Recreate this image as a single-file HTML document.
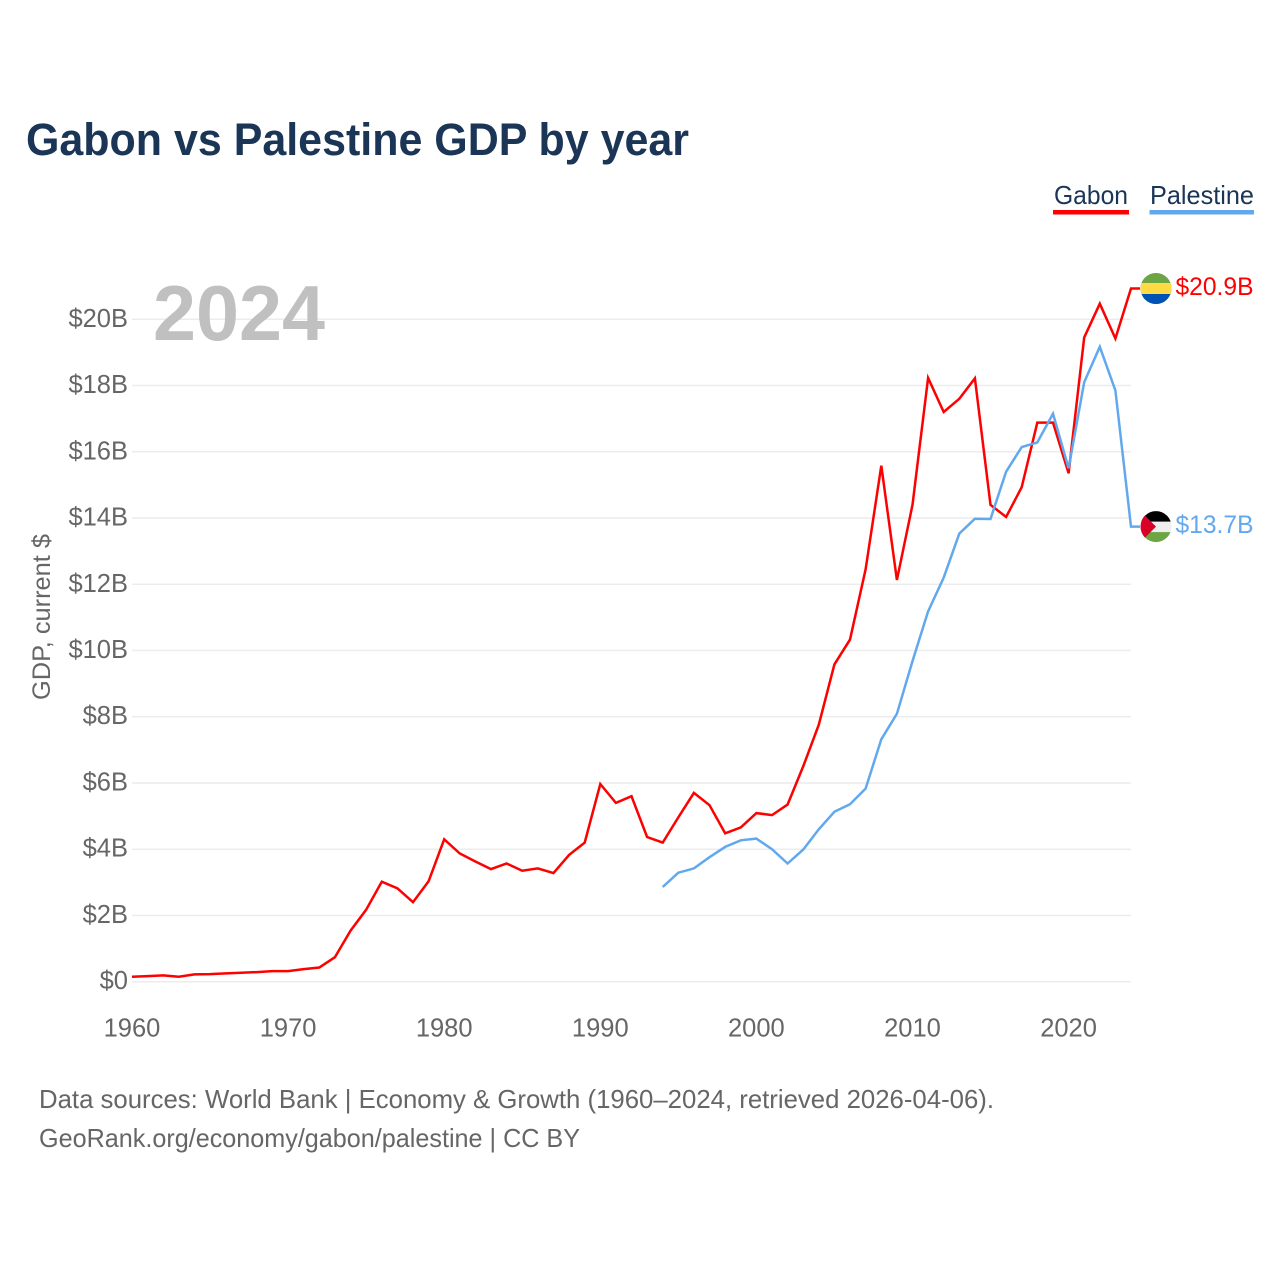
<!DOCTYPE html>
<html lang="en">
<head>
<meta charset="utf-8">
<title>Gabon vs Palestine GDP by year</title>
<style>
html,body{margin:0;padding:0;background:#fff;}
svg{display:block;font-family:"Liberation Sans",sans-serif;}
</style>
</head>
<body>
<svg id="chart" width="1280" height="1280" viewBox="0 0 1280 1280" xmlns="http://www.w3.org/2000/svg">
  <defs>
    <clipPath id="flag-clip"><circle cx="0" cy="0" r="15.5"></circle></clipPath>
  </defs>
  <rect x="0" y="0" width="1280" height="1280" fill="#ffffff"></rect>
  <text x="26" y="155" font-size="45" font-weight="700" fill="#1a3556" textLength="663" lengthAdjust="spacingAndGlyphs">Gabon vs Palestine GDP by year</text>

  <text x="1054" y="204" font-size="26" fill="#1a3556" textLength="74" lengthAdjust="spacingAndGlyphs">Gabon</text>
  <rect x="1053" y="210" width="76" height="4.5" fill="#ff0000"></rect>
  <text x="1150" y="204" font-size="26" fill="#1a3556" textLength="104" lengthAdjust="spacingAndGlyphs">Palestine</text>
  <rect x="1149.5" y="210" width="104.5" height="4.5" fill="#62a8ee"></rect>

  <g id="grid"></g>
  <text x="153" y="340" font-size="78" font-weight="700" fill="#c0c0c0" textLength="172" lengthAdjust="spacingAndGlyphs">2024</text>
  <g id="y-ticks"></g>
  <g id="x-ticks"></g>
  <text transform="translate(50 617) rotate(-90)" text-anchor="middle" font-size="25" fill="#666666" textLength="166" lengthAdjust="spacingAndGlyphs">GDP, current $</text>

  <g id="series"></g>

  <g id="flag-gabon">
    <g clip-path="url(#flag-clip)">
      <rect x="-16" y="-16" width="32" height="32" fill="#6da544"></rect>
      <rect x="-16" y="-5.5" width="32" height="11" fill="#ffda44"></rect>
      <rect x="-16" y="5.5" width="32" height="11" fill="#0052b4"></rect>
    </g>
  </g>
  <g id="flag-palestine">
    <g clip-path="url(#flag-clip)">
      <rect x="-16" y="-16" width="32" height="32" fill="#eeeeee"></rect>
      <rect x="-16" y="-16" width="32" height="11" fill="#000000"></rect>
      <rect x="-16" y="5.5" width="32" height="11" fill="#6da544"></rect>
      <polygon points="-16,-16 0,0 -16,16" fill="#d80027"></polygon>
    </g>
  </g>
  <text id="value-gabon" x="1175.5" font-size="25" fill="#ff0000" textLength="78" lengthAdjust="spacingAndGlyphs"></text>
  <text id="value-palestine" x="1175.5" font-size="25" fill="#62a8ee" textLength="78" lengthAdjust="spacingAndGlyphs"></text>

  <text x="39" y="1108" font-size="26" fill="#666666" textLength="955" lengthAdjust="spacingAndGlyphs">Data sources: World Bank | Economy &amp; Growth (1960–2024, retrieved 2026-04-06).</text>
  <text x="39" y="1147" font-size="26" fill="#666666" textLength="541" lengthAdjust="spacingAndGlyphs">GeoRank.org/economy/gabon/palestine | CC BY</text>
</svg>
<script>
var gabonStartYear = 1960;
var palestineStartYear = 1994;
var gabonValues = [0.15,0.17,0.19,0.15,0.22,0.23,0.25,0.27,0.29,0.32,0.32,0.38,0.43,0.74,1.54,2.17,3.02,2.82,2.4,3.03,4.3,3.87,3.63,3.4,3.57,3.35,3.42,3.28,3.83,4.2,5.97,5.4,5.6,4.37,4.2,4.96,5.7,5.33,4.48,4.66,5.09,5.03,5.35,6.5,7.76,9.58,10.33,12.45,15.58,12.13,14.4,18.23,17.2,17.6,18.22,14.4,14.03,14.93,16.88,16.88,15.35,19.45,20.47,19.42,20.93];
var palestineValues = [2.86,3.29,3.42,3.76,4.07,4.27,4.32,4.0,3.57,3.99,4.6,5.13,5.36,5.83,7.32,8.09,9.68,11.18,12.2,13.53,13.98,13.97,15.4,16.14,16.28,17.15,15.5,18.1,19.17,17.85,13.74];
var yTickValues = [0,2,4,6,8,10,12,14,16,18,20];
var yTickLabels = ["$0","$2B","$4B","$6B","$8B","$10B","$12B","$14B","$16B","$18B","$20B"];
var xTickValues = [1960,1970,1980,1990,2000,2010,2020];
var xTickLabels = ["1960","1970","1980","1990","2000","2010","2020"];

var NS = "http://www.w3.org/2000/svg";
function xScale(year) { return 132 + (year - 1960) * (999 / 64); }
function yScale(value) { return 981.7 - value * 33.12; }
function make(tag, attrs) {
  var el = document.createElementNS(NS, tag);
  for (var k in attrs) { el.setAttribute(k, attrs[k]); }
  return el;
}

var grid = document.getElementById("grid");
var yTicks = document.getElementById("y-ticks");
yTickValues.forEach(function (v, i) {
  var line = make("line", { x1: 132, x2: 1131, y1: yScale(v), y2: yScale(v), stroke: "#ececec", "stroke-width": 1.5 });
  
  
  grid.appendChild(line);
  var label = make("text", { x: 128, y: yScale(v) + 7.5, "text-anchor": "end", "font-size": 25.5, fill: "#666666" });
  
  
  label.textContent = yTickLabels[i];
  yTicks.appendChild(label);
});

var xTicks = document.getElementById("x-ticks");
xTickValues.forEach(function (v, i) {
  var label = make("text", { x: xScale(v), y: 1036.5, "text-anchor": "middle", "font-size": 25.5, fill: "#666666" });
  
  
  label.textContent = xTickLabels[i];
  xTicks.appendChild(label);
});

function seriesPoints(values, startYear) {
  var pts = values.map(function (v, i) { return xScale(startYear + i).toFixed(1) + "," + yScale(v).toFixed(1); });
  var last = values[values.length - 1];
  pts.push("1140," + yScale(last).toFixed(1));
  return pts.join(" ");
}
var seriesGroup = document.getElementById("series");
var gabonLine = make("polyline", { points: seriesPoints(gabonValues, gabonStartYear), fill: "none", stroke: "#ff0000", "stroke-width": 2.5, "stroke-linejoin": "miter" });


seriesGroup.appendChild(gabonLine);
var palestineLine = make("polyline", { points: seriesPoints(palestineValues, palestineStartYear), fill: "none", stroke: "#62a8ee", "stroke-width": 2.5, "stroke-linejoin": "miter" });


seriesGroup.appendChild(palestineLine);

function placeEnd(flagId, valueId, values) {
  var last = values[values.length - 1];
  var y = yScale(last);
  document.getElementById(flagId).setAttribute("transform", "translate(1156 " + y.toFixed(1) + ")");
  var t = document.getElementById(valueId);
  t.setAttribute("y", (y + 6.5).toFixed(1));
  t.textContent = "$" + last.toFixed(1) + "B";
}
placeEnd("flag-gabon", "value-gabon", gabonValues);
placeEnd("flag-palestine", "value-palestine", palestineValues);
</script>
</body>
</html>
